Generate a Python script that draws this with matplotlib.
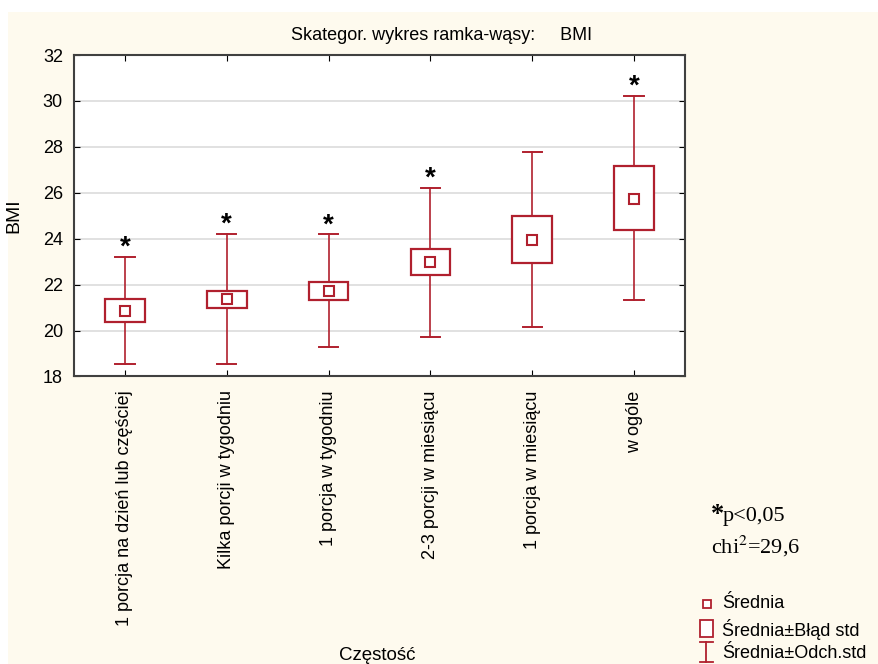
"""
Skategoryzowany wykres ramka-wąsy: BMI wg częstości spożycia
"""

import matplotlib.pyplot as plt
from matplotlib.patches import Rectangle
from matplotlib.lines import Line2D

categories = ['1 porcja na dzień lub częściej', 'Kilka porcji w tygodniu',
              '1 porcja w tygodniu', '2-3 porcji w miesiącu',
              '1 porcja w miesiącu', 'w ogóle']
means = [20.87, 21.37, 21.74, 22.98, 23.96, 25.75]
se_low = [20.37, 20.99, 21.34, 22.40, 22.93, 24.40]
se_high = [21.38, 21.74, 22.13, 23.56, 24.99, 27.17]
sd_low = [18.54, 18.55, 19.29, 19.73, 20.16, 21.32]
sd_high = [23.22, 24.21, 24.19, 26.23, 27.78, 30.23]
significant = [True, True, True, True, False, True]
y_ticks = [18, 20, 22, 24, 26, 28, 30, 32]

RED = '#b0202e'
CREAM = '#fefaee'
W, H = 879, 664

plt.rcParams['font.family'] = ['Liberation Sans', 'DejaVu Sans']

fig = plt.figure(figsize=(W / 100, H / 100), dpi=100, facecolor='white')
fig.patches.append(Rectangle((8 / W, 0), 1, 1 - 12 / H, transform=fig.transFigure,
                             facecolor=CREAM, edgecolor='none', zorder=-10))

ax = fig.add_axes([74 / W, 1 - 376.5 / H, (685 - 74) / W, (376.5 - 55) / H])
ax.set_facecolor('white')

box_w = 0.39
cap_w = 0.19
for i in range(len(categories)):
    # whiskers: mean +/- std dev
    ax.plot([i, i], [sd_low[i], se_low[i]], color=RED, lw=1.2, zorder=3)
    ax.plot([i, i], [se_high[i], sd_high[i]], color=RED, lw=1.2, zorder=3)
    ax.plot([i - cap_w / 2, i + cap_w / 2], [sd_low[i]] * 2, color=RED, lw=1.4, zorder=3)
    ax.plot([i - cap_w / 2, i + cap_w / 2], [sd_high[i]] * 2, color=RED, lw=1.4, zorder=3)
    # box: mean +/- std error
    ax.add_patch(Rectangle((i - box_w / 2, se_low[i]), box_w, se_high[i] - se_low[i],
                           facecolor='white', edgecolor=RED, lw=1.6, zorder=3))
    ax.plot(i, means[i], marker='s', ms=6.5, mfc='white', mec=RED, mew=1.5, zorder=4)
    if significant[i]:
        ax.text(i, sd_high[i] + 0.4, '*', ha='center', va='center',
                fontsize=20, fontweight='bold', color='black')

ax.set_xlim(-0.5, len(categories) - 0.5)
ax.set_ylim(18, 32)
ax.set_yticks(y_ticks)
ax.set_xticks(range(len(categories)))
ax.set_xticklabels(categories, rotation=90, fontsize=13)
ax.tick_params(axis='y', labelsize=13, direction='in', right=True, length=4, pad=8)
ax.tick_params(axis='x', direction='in', top=True, length=4, pad=10)
ax.grid(True, axis='y', color='#dcdcdc', lw=1.2)
ax.set_axisbelow(True)
for s in ax.spines.values():
    s.set_color('#404040')
    s.set_linewidth(1.5)

ax.set_ylabel('BMI', fontsize=14)
ax.yaxis.set_label_coords(-0.085, 0.5)
fig.text(377 / W, 1 - 655 / H, 'Częstość', ha='center', va='center', fontsize=13.5)
fig.text(442 / W, 1 - 35 / H, 'Skategor. wykres ramka-wąsy:     BMI',
         ha='center', va='center', fontsize=13)

# annotation
fig.text(711 / W, 1 - 514 / H, '*', fontsize=19, fontweight='bold', va='center',
         family='Liberation Serif')
fig.text(723 / W, 1 - 517 / H, 'p<0,05', fontsize=16, va='center', family='Liberation Serif')
fig.text(711 / W, 1 - 546 / H, 'chi$^2$=29,6', fontsize=16, va='center',
         family='Liberation Serif', math_fontfamily='stix')

# legend
fig.add_artist(Line2D([707 / W], [1 - 604 / H], marker='s', ms=6, mfc='white',
                      mec=RED, mew=1.3, transform=fig.transFigure))
fig.add_artist(Rectangle((700 / W, 1 - 637 / H), 13 / W, 17 / H, facecolor='white',
                         edgecolor=RED, lw=1.3, transform=fig.transFigure))
for xs, ys in [([706.5, 706.5], [642, 662]), ([700, 713], [642, 642]), ([700, 713], [662, 662])]:
    fig.add_artist(Line2D([x / W for x in xs], [1 - y / H for y in ys], color=RED,
                          lw=1.3, transform=fig.transFigure))
for y, label in [(604, 'Średnia'), (629, 'Średnia±Błąd std'), (653, 'Średnia±Odch.std')]:
    fig.text(722 / W, 1 - y / H, label, fontsize=13, va='center')

fig.savefig('out.png', dpi=100, facecolor=fig.get_facecolor())
